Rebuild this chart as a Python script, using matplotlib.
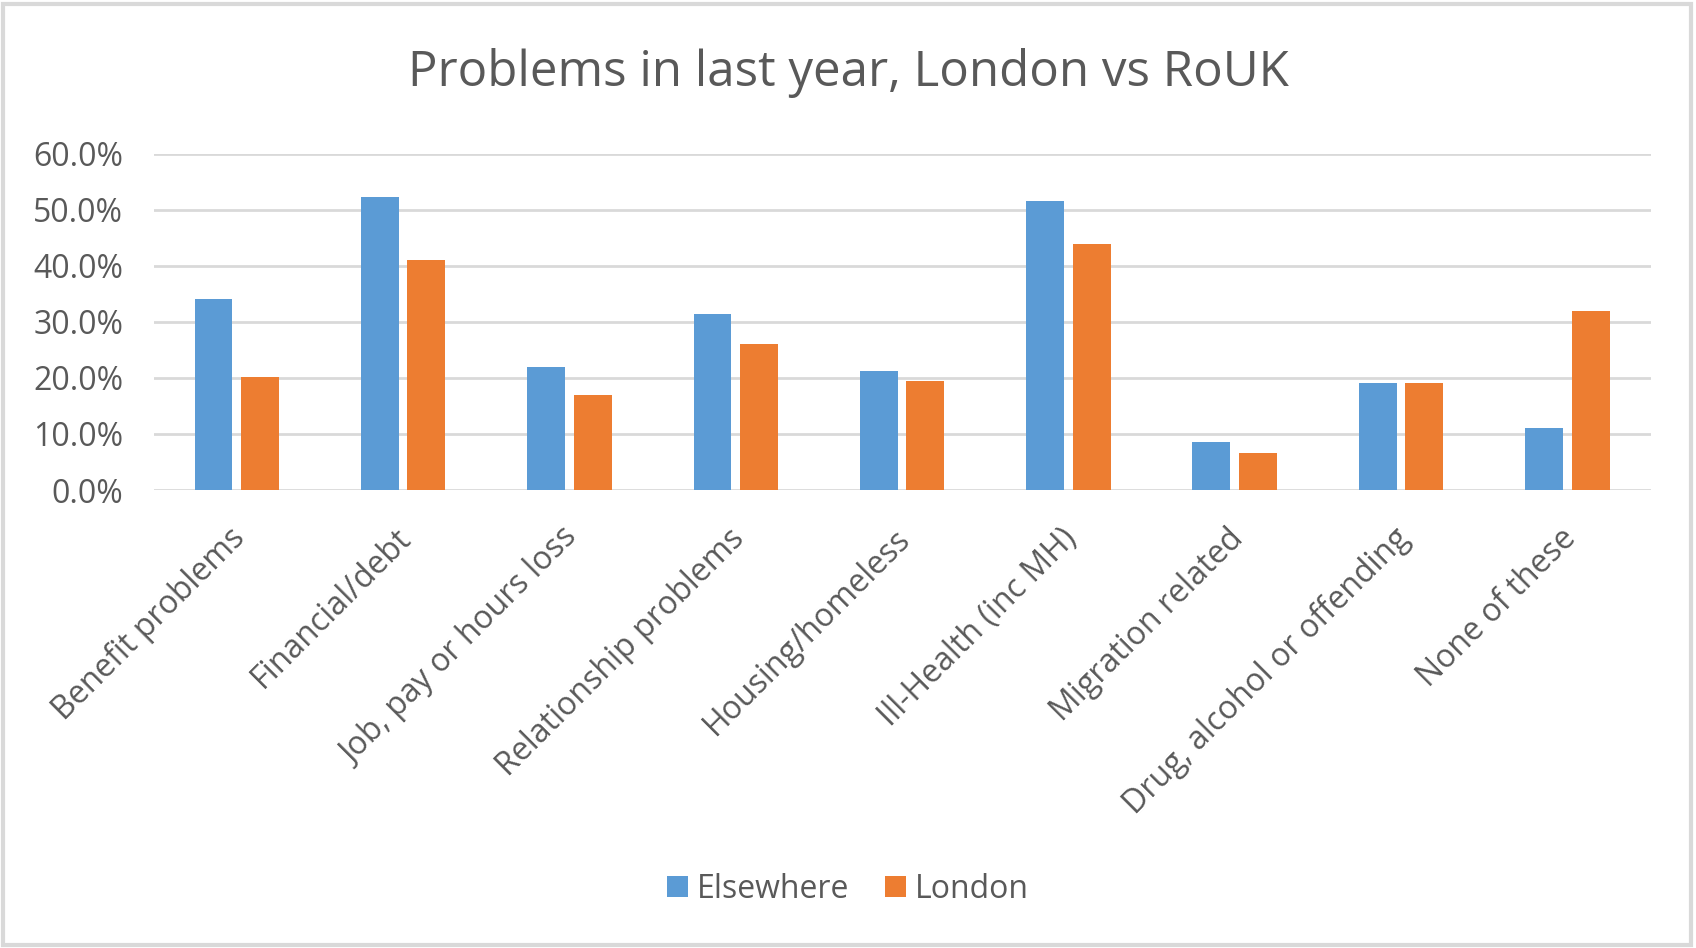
import numpy as np
import matplotlib.pyplot as plt
from matplotlib.patches import Rectangle
from matplotlib.ticker import FuncFormatter
from matplotlib.transforms import ScaledTranslation

plt.rcParams['font.family'] = ['Open Sans', 'DejaVu Sans']

categories = ['Benefit problems', 'Financial/debt', 'Job, pay or hours loss',
              'Relationship problems', 'Housing/homeless', 'Ill-Health (inc MH)',
              'Migration related', 'Drug, alcohol or offending', 'None of these']
elsewhere = [0.340, 0.522, 0.219, 0.314, 0.212, 0.516, 0.086, 0.191, 0.111]
london = [0.201, 0.411, 0.170, 0.261, 0.194, 0.439, 0.066, 0.191, 0.320]

text_grey = '#595959'
grid_grey = '#D9D9D9'
blue = '#5B9BD5'
orange = '#ED7D31'

fig = plt.figure(figsize=(16.96, 9.48), dpi=100)
ax = fig.add_axes([0.0906, 0.4831, 0.8826, 0.3549])

x = np.arange(len(categories))
w = 0.228
off = 0.14
ax.bar(x - off, elsewhere, w, color=blue, label='Elsewhere', zorder=3)
ax.bar(x + off, london, w, color=orange, label='London', zorder=3)

ax.set_xlim(-0.5, len(categories) - 0.5)
ax.set_ylim(0, 0.6)
ax.set_yticks(np.arange(0, 0.61, 0.1))
ax.yaxis.set_major_formatter(FuncFormatter(lambda v, p: f'{v * 100:.1f}%'))
ax.grid(axis='y', color=grid_grey, linewidth=2, zorder=0)
for s in ax.spines.values():
    s.set_visible(False)
ax.tick_params(axis='both', length=0, labelsize=23, labelcolor=text_grey)
ax.tick_params(axis='y', pad=22)

ax.set_xticks(x)
ax.set_xticklabels(categories, rotation=45, ha='right', rotation_mode='anchor')
ax.tick_params(axis='x', pad=23)
# nudge the slanted labels a little to the left
shift = ScaledTranslation(-8 / 100, 0, fig.dpi_scale_trans)
for lab in ax.get_xticklabels():
    lab.set_transform(lab.get_transform() + shift)

fig.text(0.5, 0.9225, 'Problems in last year, London vs RoUK', ha='center', va='center',
         fontsize=35.5, color=text_grey)

ax.legend(loc='center', bbox_to_anchor=(0.5, 0.062), bbox_transform=fig.transFigure,
          ncol=2, frameon=False, fontsize=23, labelcolor=text_grey,
          handlelength=0.65, handleheight=0.65, handletextpad=0.3, columnspacing=1.1)

# chart area border
fig.patches.append(Rectangle((0.002, 0.003), 0.995, 0.993, transform=fig.transFigure,
                             fill=False, edgecolor=grid_grey, linewidth=3))

fig.savefig('out.png', dpi=100, facecolor='white')
